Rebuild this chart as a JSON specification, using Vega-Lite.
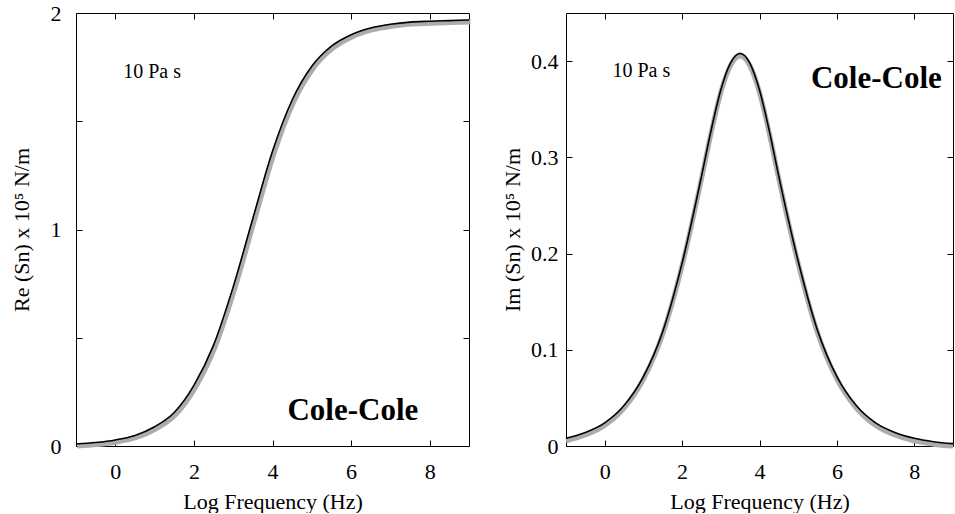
{
  "$schema": "https://vega.github.io/schema/vega-lite/v6.json",
  "background": "white",
  "padding": {"left": 9, "top": 1, "right": 0, "bottom": 0},
  "config": {
    "font": "Liberation Serif",
    "view": {"stroke": "black", "strokeWidth": 1},
    "axis": {
      "domain": false, "grid": false, "tickColor": "black", "tickSize": -6, "tickWidth": 1,
      "labelFont": "Liberation Serif", "labelFontSize": 22, "labelColor": "black",
      "titleFont": "Liberation Serif", "titleFontSize": 22, "titleFontWeight": "normal", "titleColor": "black"
    }
  },
  "datasets": {
    "re": [
      {"x": -1, "y": 0.009}, {"x": -0.5, "y": 0.016}, {"x": 0, "y": 0.028}, {"x": 0.5, "y": 0.049},
      {"x": 1, "y": 0.089}, {"x": 1.5, "y": 0.155}, {"x": 2, "y": 0.28}, {"x": 2.5, "y": 0.466},
      {"x": 3, "y": 0.735}, {"x": 3.5, "y": 1.051}, {"x": 4, "y": 1.361}, {"x": 4.5, "y": 1.598},
      {"x": 5, "y": 1.754}, {"x": 5.5, "y": 1.847}, {"x": 6, "y": 1.9}, {"x": 6.5, "y": 1.931},
      {"x": 7, "y": 1.948}, {"x": 7.5, "y": 1.958}, {"x": 8, "y": 1.962}, {"x": 8.5, "y": 1.965},
      {"x": 9, "y": 1.968}
    ],
    "im": [
      {"x": -1, "y": 0.008}, {"x": -0.5, "y": 0.014}, {"x": 0, "y": 0.024}, {"x": 0.5, "y": 0.042},
      {"x": 1, "y": 0.072}, {"x": 1.5, "y": 0.119}, {"x": 2, "y": 0.19}, {"x": 2.5, "y": 0.28},
      {"x": 2.75, "y": 0.328}, {"x": 3, "y": 0.37}, {"x": 3.25, "y": 0.398}, {"x": 3.5, "y": 0.408},
      {"x": 3.75, "y": 0.398}, {"x": 4, "y": 0.37}, {"x": 4.25, "y": 0.328}, {"x": 4.5, "y": 0.28},
      {"x": 5, "y": 0.192}, {"x": 5.5, "y": 0.12}, {"x": 6, "y": 0.072}, {"x": 6.5, "y": 0.042},
      {"x": 7, "y": 0.024}, {"x": 7.5, "y": 0.014}, {"x": 8, "y": 0.008}, {"x": 8.5, "y": 0.0045},
      {"x": 9, "y": 0.0025}
    ],
    "reNotes": [
      {"x": 0.2, "y": 1.70, "label": "10 Pa s", "kind": "note"},
      {"x": 4.38, "y": 0.12, "label": "Cole-Cole", "kind": "model"}
    ],
    "imNotes": [
      {"x": 0.2, "y": 0.383, "label": "10 Pa s", "kind": "note"},
      {"x": 5.33, "y": 0.372, "label": "Cole-Cole", "kind": "model"}
    ]
  },
  "spacing": 97,
  "bounds": "flush",
  "hconcat": [
    {
      "width": 393,
      "height": 433,
      "resolve": {"axis": {"x": "independent", "y": "independent"}},
      "layer": [
        {
          "data": {"name": "re"},
          "mark": {"type": "line", "color": "#acacac", "strokeWidth": 5, "interpolate": "monotone", "yOffset": 2, "xOffset": 1.5},
          "encoding": {
            "x": {"field": "x", "type": "quantitative", "scale": {"domain": [-1, 9], "nice": false, "zero": false},
              "axis": {"orient": "bottom", "values": [0, 2, 4, 6, 8], "title": "Log Frequency (Hz)", "labelPadding": 21, "titlePadding": 9,
                "labelFont": "Liberation Serif", "titleFont": "Liberation Serif"}},
            "y": {"field": "y", "type": "quantitative", "scale": {"domain": [0, 2], "nice": false},
              "axis": {"orient": "left", "values": [0, 0.5, 1, 1.5, 2], "labelExpr": "datum.value % 1 === 0 ? format(datum.value, 'd') : ''",
                "title": "Re (Sn) x 10⁵ N/m", "labelPadding": 21, "titlePadding": 17,
                "labelFont": "Liberation Serif", "titleFont": "Liberation Serif"}}
          }
        },
        {
          "data": {"name": "re"},
          "mark": {"type": "line", "color": "black", "strokeWidth": 1.6, "interpolate": "monotone"},
          "encoding": {
            "x": {"field": "x", "type": "quantitative", "axis": {"orient": "top", "labels": false, "title": null, "values": [0, 2, 4, 6, 8]}},
            "y": {"field": "y", "type": "quantitative", "axis": {"orient": "right", "labels": false, "title": null, "values": [0.5, 1, 1.5]}}
          }
        },
        {
          "data": {"name": "reNotes"},
          "transform": [{"filter": "datum.kind === 'note'"}],
          "mark": {"type": "text", "align": "left", "baseline": "alphabetic", "fontSize": 20, "font": "Liberation Serif", "color": "black"},
          "encoding": {
            "x": {"field": "x", "type": "quantitative", "axis": null},
            "y": {"field": "y", "type": "quantitative", "axis": null},
            "text": {"field": "label"}
          }
        },
        {
          "data": {"name": "reNotes"},
          "transform": [{"filter": "datum.kind === 'model'"}],
          "mark": {"type": "text", "align": "left", "baseline": "alphabetic", "fontSize": 31, "fontWeight": "bold", "font": "Liberation Serif", "color": "black"},
          "encoding": {
            "x": {"field": "x", "type": "quantitative", "axis": null},
            "y": {"field": "y", "type": "quantitative", "axis": null},
            "text": {"field": "label"}
          }
        }
      ]
    },
    {
      "width": 387,
      "height": 433,
      "resolve": {"axis": {"x": "independent", "y": "independent"}},
      "layer": [
        {
          "data": {"name": "im"},
          "mark": {"type": "line", "color": "#acacac", "strokeWidth": 5, "interpolate": "monotone", "yOffset": 2.5},
          "encoding": {
            "x": {"field": "x", "type": "quantitative", "scale": {"domain": [-1, 9], "nice": false, "zero": false},
              "axis": {"orient": "bottom", "values": [0, 2, 4, 6, 8], "title": "Log Frequency (Hz)", "labelPadding": 21, "titlePadding": 9,
                "labelFont": "Liberation Serif", "titleFont": "Liberation Serif"}},
            "y": {"field": "y", "type": "quantitative", "scale": {"domain": [0, 0.45], "nice": false},
              "axis": {"orient": "left", "values": [0, 0.1, 0.2, 0.3, 0.4], "labelExpr": "datum.value === 0 ? '0' : format(datum.value, '.1f')",
                "title": "Im (Sn) x 10⁵ N/m", "labelPadding": 14, "titlePadding": 6,
                "labelFont": "Liberation Serif", "titleFont": "Liberation Serif"}}
          }
        },
        {
          "data": {"name": "im"},
          "mark": {"type": "line", "color": "black", "strokeWidth": 1.6, "interpolate": "monotone"},
          "encoding": {
            "x": {"field": "x", "type": "quantitative", "axis": {"orient": "top", "labels": false, "title": null, "values": [0, 2, 4, 6, 8]}},
            "y": {"field": "y", "type": "quantitative", "axis": {"orient": "right", "labels": false, "title": null, "values": [0.1, 0.2, 0.3, 0.4]}}
          }
        },
        {
          "data": {"name": "imNotes"},
          "transform": [{"filter": "datum.kind === 'note'"}],
          "mark": {"type": "text", "align": "left", "baseline": "alphabetic", "fontSize": 20, "font": "Liberation Serif", "color": "black"},
          "encoding": {
            "x": {"field": "x", "type": "quantitative", "axis": null},
            "y": {"field": "y", "type": "quantitative", "axis": null},
            "text": {"field": "label"}
          }
        },
        {
          "data": {"name": "imNotes"},
          "transform": [{"filter": "datum.kind === 'model'"}],
          "mark": {"type": "text", "align": "left", "baseline": "alphabetic", "fontSize": 31, "fontWeight": "bold", "font": "Liberation Serif", "color": "black"},
          "encoding": {
            "x": {"field": "x", "type": "quantitative", "axis": null},
            "y": {"field": "y", "type": "quantitative", "axis": null},
            "text": {"field": "label"}
          }
        }
      ]
    }
  ]
}
